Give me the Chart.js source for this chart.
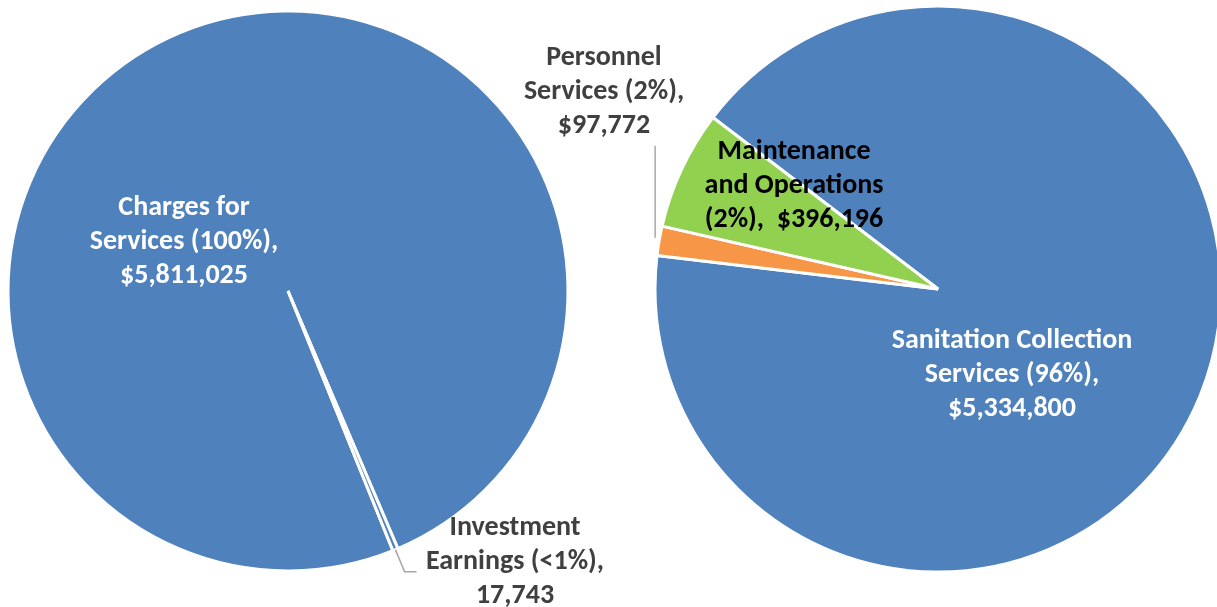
<!DOCTYPE html>
<html>
<head>
<meta charset="utf-8">
<title>Revenues and Expenses</title>
<script src="https://cdn.jsdelivr.net/npm/chart.js@4.4.1/dist/chart.umd.min.js"></script>
<style>
    html, body { margin: 0; padding: 0; background: #fff; overflow: hidden; }
    #wrap { position: relative; width: 1217px; height: 607px; }
    #wrap canvas { position: absolute; left: 0; top: 0; }
</style>
</head>
<body>
<div id="wrap">
    <canvas id="revenueChart" width="1217" height="607"></canvas>
    <canvas id="expenseChart" width="1217" height="607"></canvas>
</div>
<script>
// ================= DATA =================
const revenueCategories = ["Charges for Services", "Investment Earnings"];
const revenueValues = [5811025, 17743];
const revenueShares = ["100%", "<1%"];

const expenseCategories = ["Sanitation Collection Services", "Personnel Services", "Maintenance and Operations"];
const expenseValues = [5334800, 97772, 396196];
const expenseShares = ["96%", "2%", "2%"];

// ================= FORMAT =================
function num(v) {
    return new Intl.NumberFormat("en-US").format(v);
}
function money(v) {
    return "$" + num(v);
}

const BLUE = "#4F81BD";
const ORANGE = "#F79646";
const GREEN = "#92D050";
const FONT = "bold 28px Calibri, Carlito, Lato, sans-serif";
const LINE_H = 34;

// text block for each slice: offset of middle line from pie center
const revenueText = [
    { lines: (v, p) => ["Charges for", `Services (${p}),`, money(v)], dx: -104, dy: -49, color: "#FFFFFF" },
    { lines: (v, p) => ["Investment", `Earnings (${p}),`, num(v)], dx: 227, dy: 271, color: "#404040",
      leader: { out: 24, tail: 12 } }
];
const expenseText = [
    { lines: (v, p) => ["Sanitation Collection", `Services (${p}),`, money(v)], dx: 74, dy: 86, color: "#FFFFFF" },
    { lines: (v, p) => ["Personnel", `Services (${p}),`, money(v)], dx: -334, dy: -197, color: "#404040",
      leader: { up: 92 } },
    { lines: (v, p) => ["Maintenance", "and Operations", `(${p}),  ${money(v)}`], dx: -144, dy: -103, color: "#000000" }
];

// ================= LABEL PLUGIN =================
function sliceLabels(texts, values, shares) {
    return {
        id: "sliceLabels",
        afterDatasetsDraw(chart) {
            const ctx = chart.ctx;
            const arcs = chart.getDatasetMeta(0).data;
            ctx.save();
            texts.forEach((t, i) => {
                const arc = arcs[i];
                const cx = arc.x, cy = arc.y, r = arc.outerRadius;
                if (t.leader) {
                    const mid = (arc.startAngle + arc.endAngle) / 2;
                    const ex = cx + Math.cos(mid) * r;
                    const ey = cy + Math.sin(mid) * r;
                    ctx.strokeStyle = "#A6A6A6";
                    ctx.lineWidth = 1.5;
                    ctx.beginPath();
                    if (t.leader.out) {
                        const bx = cx + Math.cos(mid) * (r + t.leader.out);
                        const by = cy + Math.sin(mid) * (r + t.leader.out);
                        ctx.moveTo(ex, ey);
                        ctx.lineTo(bx, by);
                        ctx.lineTo(bx + t.leader.tail, by);
                    } else {
                        ctx.moveTo(ex - 4, ey - 3);
                        ctx.lineTo(ex - 4, ey - 3 - t.leader.up);
                    }
                    ctx.stroke();
                }
                ctx.font = FONT;
                ctx.fillStyle = t.color;
                ctx.textAlign = "center";
                ctx.textBaseline = "middle";
                const lines = t.lines(values[i], shares[i]);
                lines.forEach((line, k) => {
                    ctx.fillText(line, cx + t.dx, cy + t.dy + (k - 1) * LINE_H);
                });
            });
            ctx.restore();
        }
    };
}

// ================= CHARTS =================
function makePie(id, categories, values, colors, rotation, radius, padding, plugin) {
    return new Chart(document.getElementById(id), {
        type: "pie",
        data: {
            labels: categories,
            datasets: [{
                data: values,
                backgroundColor: colors,
                borderColor: "#FFFFFF",
                borderWidth: 3,
                radius: radius
            }]
        },
        options: {
            responsive: false,
            animation: false,
            rotation: rotation,
            layout: { padding: padding },
            plugins: {
                legend: { display: false },
                tooltip: { enabled: false }
            }
        },
        plugins: [plugin]
    });
}

makePie("revenueChart", revenueCategories, revenueValues, [BLUE, BLUE], 158, 280,
    { left: 0, right: 641, top: 0, bottom: 25 },
    sliceLabels(revenueText, revenueValues, revenueShares));

makePie("expenseChart", expenseCategories, expenseValues, [BLUE, ORANGE, GREEN], 307.3, 283,
    { left: 659, right: 0, top: 0, bottom: 29 },
    sliceLabels(expenseText, expenseValues, expenseShares));
</script>
</body>
</html>
